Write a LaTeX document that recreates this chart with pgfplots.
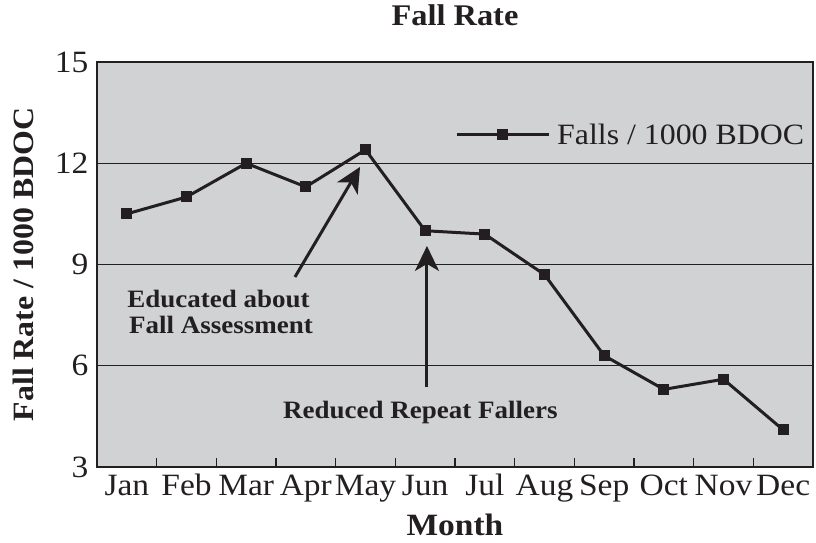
\documentclass[border=0pt]{standalone}
\usepackage{fontspec}
\setmainfont{Liberation Serif}[FakeStretch=1.08]
\usepackage{pgfplots}
\pgfplotsset{compat=1.18}
\usetikzlibrary{arrows.meta}
\definecolor{bg}{RGB}{209,210,212}
\definecolor{ln}{RGB}{35,31,32}
\begin{document}
\begin{tikzpicture}
\begin{axis}[
  scale only axis, width=716pt, height=405pt,
  xmin=-0.5, xmax=11.5, ymin=3, ymax=15,
  axis background/.style={fill=bg},
  axis line style={ln, line width=1.6pt},
  xtick={0,...,11},
  xticklabels={Jan,Feb,Mar,Apr,May,Jun,Jul,Aug,Sep,Oct,Nov,Dec},
  minor xtick={0.5,1.5,...,10.5},
  major tick length=0pt, minor tick length=9pt,
  tick align=inside, xtick pos=bottom, ytick pos=left,
  minor tick style={ln, line width=1.3pt},
  ytick={3,6,9,12,15},
  ymajorgrids, grid style={ln, line width=1.2pt},
  /pgf/number format/assume math mode=true,
  ticklabel style={font=\fontsize{31}{33}\selectfont, text=ln},
  xticklabel style={text height=22pt, text depth=7pt, yshift=-3pt},
  yticklabel style={xshift=-5pt},
  title={\fontsize{30}{32}\selectfont\bfseries Fall Rate},
  title style={at={(axis description cs:0.5,1)}, anchor=base, yshift=30pt, text=ln},
  xlabel={\fontsize{31}{33}\selectfont\bfseries Month},
  xlabel style={at={(axis description cs:0.5,0)}, anchor=base, yshift=-68pt, text=ln, inner sep=0pt},
  ylabel={\fontsize{29.5}{32}\selectfont\bfseries Fall Rate / 1000 BDOC},
  ylabel style={at={(axis description cs:-0.1034,0.5)}, anchor=center, text=ln},
  legend style={at={(axis description cs:0.5,0.8198)}, anchor=west, draw=none, fill=none, inner sep=0pt,
    column sep=5pt, font=\fontsize{29.5}{32}\selectfont, text=ln},
  legend image code/.code={\draw[#1, mark repeat=2, mark phase=2] plot coordinates {(0pt,0pt)(46pt,0pt)(92pt,0pt)};},
]
\addplot[ln, line width=3pt, mark=square*, mark size=5pt, mark options={solid, fill=ln, draw=ln, line width=1pt}]
  coordinates {(0,10.5)(1,11.0)(2,12.0)(3,11.3)(4,12.4)(5,10.0)(6,9.9)(7,8.7)(8,6.3)(9,5.3)(10,5.6)(11,4.1)};
\addlegendentry{Falls / 1000 BDOC}
\draw[ln, line width=3pt, -{Stealth[length=25pt,width=24pt,inset=7pt]}] (axis cs:2.818,8.63) -- (axis cs:3.908,11.89);
\draw[ln, line width=3pt, -{Stealth[length=25pt,width=24pt,inset=7pt]}] (axis cs:5.03,5.37) -- (axis cs:5.03,9.55);
\node[anchor=base, text=ln, font=\fontsize{25}{27}\selectfont\bfseries, inner sep=0pt] at (axis cs:1.536,7.74) {Educated about};
\node[anchor=base, text=ln, font=\fontsize{25}{27}\selectfont\bfseries, inner sep=0pt] at (axis cs:1.578,6.97) {Fall Assessment};
\node[anchor=base, text=ln, font=\fontsize{25}{27}\selectfont\bfseries, inner sep=0pt] at (axis cs:4.92,4.45) {Reduced Repeat Fallers};
\end{axis}
\pgfresetboundingbox
\path ([shift={(-97pt,-76pt)}]current axis.south west) rectangle ([shift={(3pt,62pt)}]current axis.north east);
\end{tikzpicture}
\end{document}
